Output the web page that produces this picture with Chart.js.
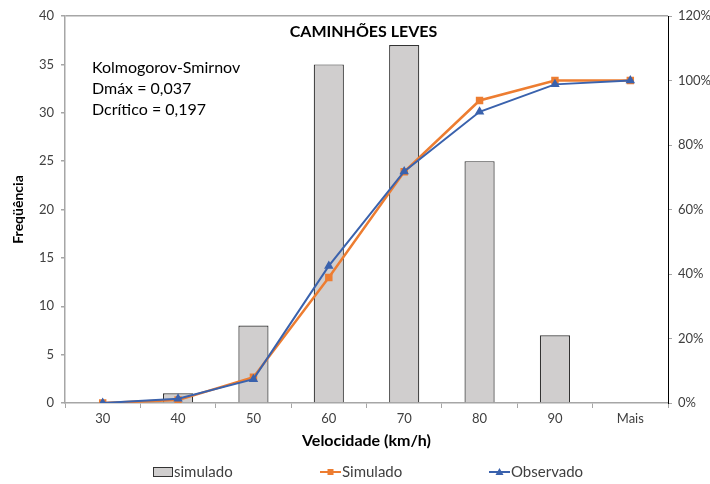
<!DOCTYPE html>
<html>
<head>
<meta charset="utf-8">
<script src="https://cdn.jsdelivr.net/npm/chart.js@4"></script>
<style>
  html, body { margin: 0; padding: 0; background: #fff; }
  #wrap { width: 710px; height: 484px; }
</style>
</head>
<body>
<div id="wrap"><canvas id="dataChart" width="710" height="484"></canvas></div>
<script>
const categorias = ["30", "40", "50", "60", "70", "80", "90", "Mais"];
const frequencias = [0, 1, 8, 35, 37, 25, 7, 0];
const simuladoAcum = [0, 0.9, 8.0, 38.9, 71.7, 93.8, 100, 100];
const observadoAcum = [0, 1.3, 7.4, 42.5, 71.8, 90.3, 98.8, 100];
const ticksPct = [0, 20, 40, 60, 80, 100, 120];

const fonte = "Lato, 'Open Sans', sans-serif";
const laranja = "#ed7d31";
const azul = "#3a62ad";

// titulo, caixa de texto e legenda desenhados por cima
const textos = {
    id: "textos",
    afterDraw(chart) {
        const ctx = chart.ctx, a = chart.chartArea;
        ctx.save();
        ctx.fillStyle = "#000";
        ctx.textAlign = "center";
        ctx.textBaseline = "middle";
        ctx.font = "bold 16px " + fonte;
        ctx.fillText("CAMINHÕES LEVES", (a.left + a.right) / 2 - 3, a.top + 16);
        ctx.textAlign = "left";
        ctx.font = "16px " + fonte;
        ["Kolmogorov-Smirnov", "Dmáx = 0,037", "Dcrítico = 0,197"].forEach((t, i) => {
            ctx.fillText(t, a.left + 27, a.top + 52 + i * 21);
        });

        // legenda
        const ly = 472;
        const ds = chart.data.datasets;
        ctx.font = "15px " + fonte;
        // barra
        ctx.fillStyle = ds[2].backgroundColor;
        ctx.fillRect(153.5, ly - 4.5, 19, 9);
        ctx.strokeStyle = ds[2].borderColor;
        ctx.lineWidth = 1;
        ctx.strokeRect(153.5, ly - 4.5, 19, 9);
        ctx.fillStyle = "#404040";
        ctx.fillText(ds[2].label, 174, ly);
        // linhas
        [[ds[0], 320], [ds[1], 489]].forEach(([d, x0]) => {
            ctx.strokeStyle = d.borderColor;
            ctx.lineWidth = 2;
            ctx.beginPath(); ctx.moveTo(x0, ly); ctx.lineTo(x0 + 21, ly); ctx.stroke();
            ctx.fillStyle = d.borderColor;
            const cx = x0 + 10.5;
            if (d.pointStyle === "rect") {
                ctx.fillRect(cx - 3, ly - 3, 6, 6);
            } else {
                ctx.beginPath(); ctx.moveTo(cx, ly - 4); ctx.lineTo(cx + 4, ly + 3); ctx.lineTo(cx - 4, ly + 3); ctx.closePath(); ctx.fill();
            }
            ctx.fillStyle = "#404040";
            ctx.fillText(d.label, x0 + 22, ly);
        });
        ctx.restore();
    }
};

document.addEventListener("DOMContentLoaded", function () {
    const ctx = document.getElementById("dataChart").getContext("2d");
    new Chart(ctx, {
        data: {
            labels: categorias,
            datasets: [
                {
                    type: "line", label: "Simulado", data: simuladoAcum, yAxisID: "y2",
                    borderColor: laranja, backgroundColor: laranja, borderWidth: 2.5,
                    pointStyle: "rect", pointRadius: 3.5, order: 1
                },
                {
                    type: "line", label: "Observado", data: observadoAcum, yAxisID: "y2",
                    borderColor: azul, backgroundColor: azul, borderWidth: 2,
                    pointStyle: "triangle", pointRadius: 3.5, order: 0
                },
                {
                    type: "bar", label: "simulado", data: frequencias, yAxisID: "y",
                    backgroundColor: "#d0cece", borderColor: "#333333", borderWidth: 1.2,
                    barPercentage: 0.4, categoryPercentage: 1, order: 2
                }
            ]
        },
        options: {
            responsive: false,
            animation: false,
            layout: { padding: { top: 16, left: 0, right: 0, bottom: 31 } },
            plugins: {
                tooltip: { enabled: false },
                legend: { display: false }
            },
            scales: {
                x: {
                    grid: { offset: true, drawOnChartArea: false, color: "#a6a6a6", tickLength: 5 },
                    border: { color: "#a6a6a6", width: 1.5 },
                    ticks: { font: { family: fonte, size: 13 }, color: "#404040", padding: 3 },
                    title: {
                        display: true, text: "Velocidade (km/h)",
                        font: { family: fonte, size: 16, weight: "bold" }, color: "#000", padding: { top: 1, bottom: 3 }
                    },
                    afterFit(s) { s.height = 50; }
                },
                y: {
                    position: "left", min: 0, max: 40,
                    ticks: { stepSize: 5, font: { family: fonte, size: 13 }, color: "#404040", padding: 7 },
                    grid: {
                        color: c => c.tick && c.tick.value === 40 ? "#a6a6a6" : "transparent",
                        tickColor: "#a6a6a6", tickLength: 4, lineWidth: 1.5
                    },
                    border: { color: "#a6a6a6", width: 1.5 },
                    title: {
                        display: true, text: "Freqüência",
                        font: { family: fonte, size: 14, weight: "bold" }, color: "#000", padding: { top: 10, bottom: 6 }
                    },
                    afterFit(s) { s.width = 65; }
                },
                y2: {
                    position: "right", min: 0, max: 120,
                    afterBuildTicks(s) { s.ticks = ticksPct.map(v => ({ value: v })); },
                    ticks: { callback: v => v + "%", font: { family: fonte, size: 13 }, color: "#404040", padding: 6 },
                    grid: { drawOnChartArea: false, color: "#a6a6a6", tickLength: 4 },
                    border: { color: "#000", width: 1 },
                    afterFit(s) { s.width = 42; }
                }
            }
        },
        plugins: [textos]
    });
});
</script>
</body>
</html>
